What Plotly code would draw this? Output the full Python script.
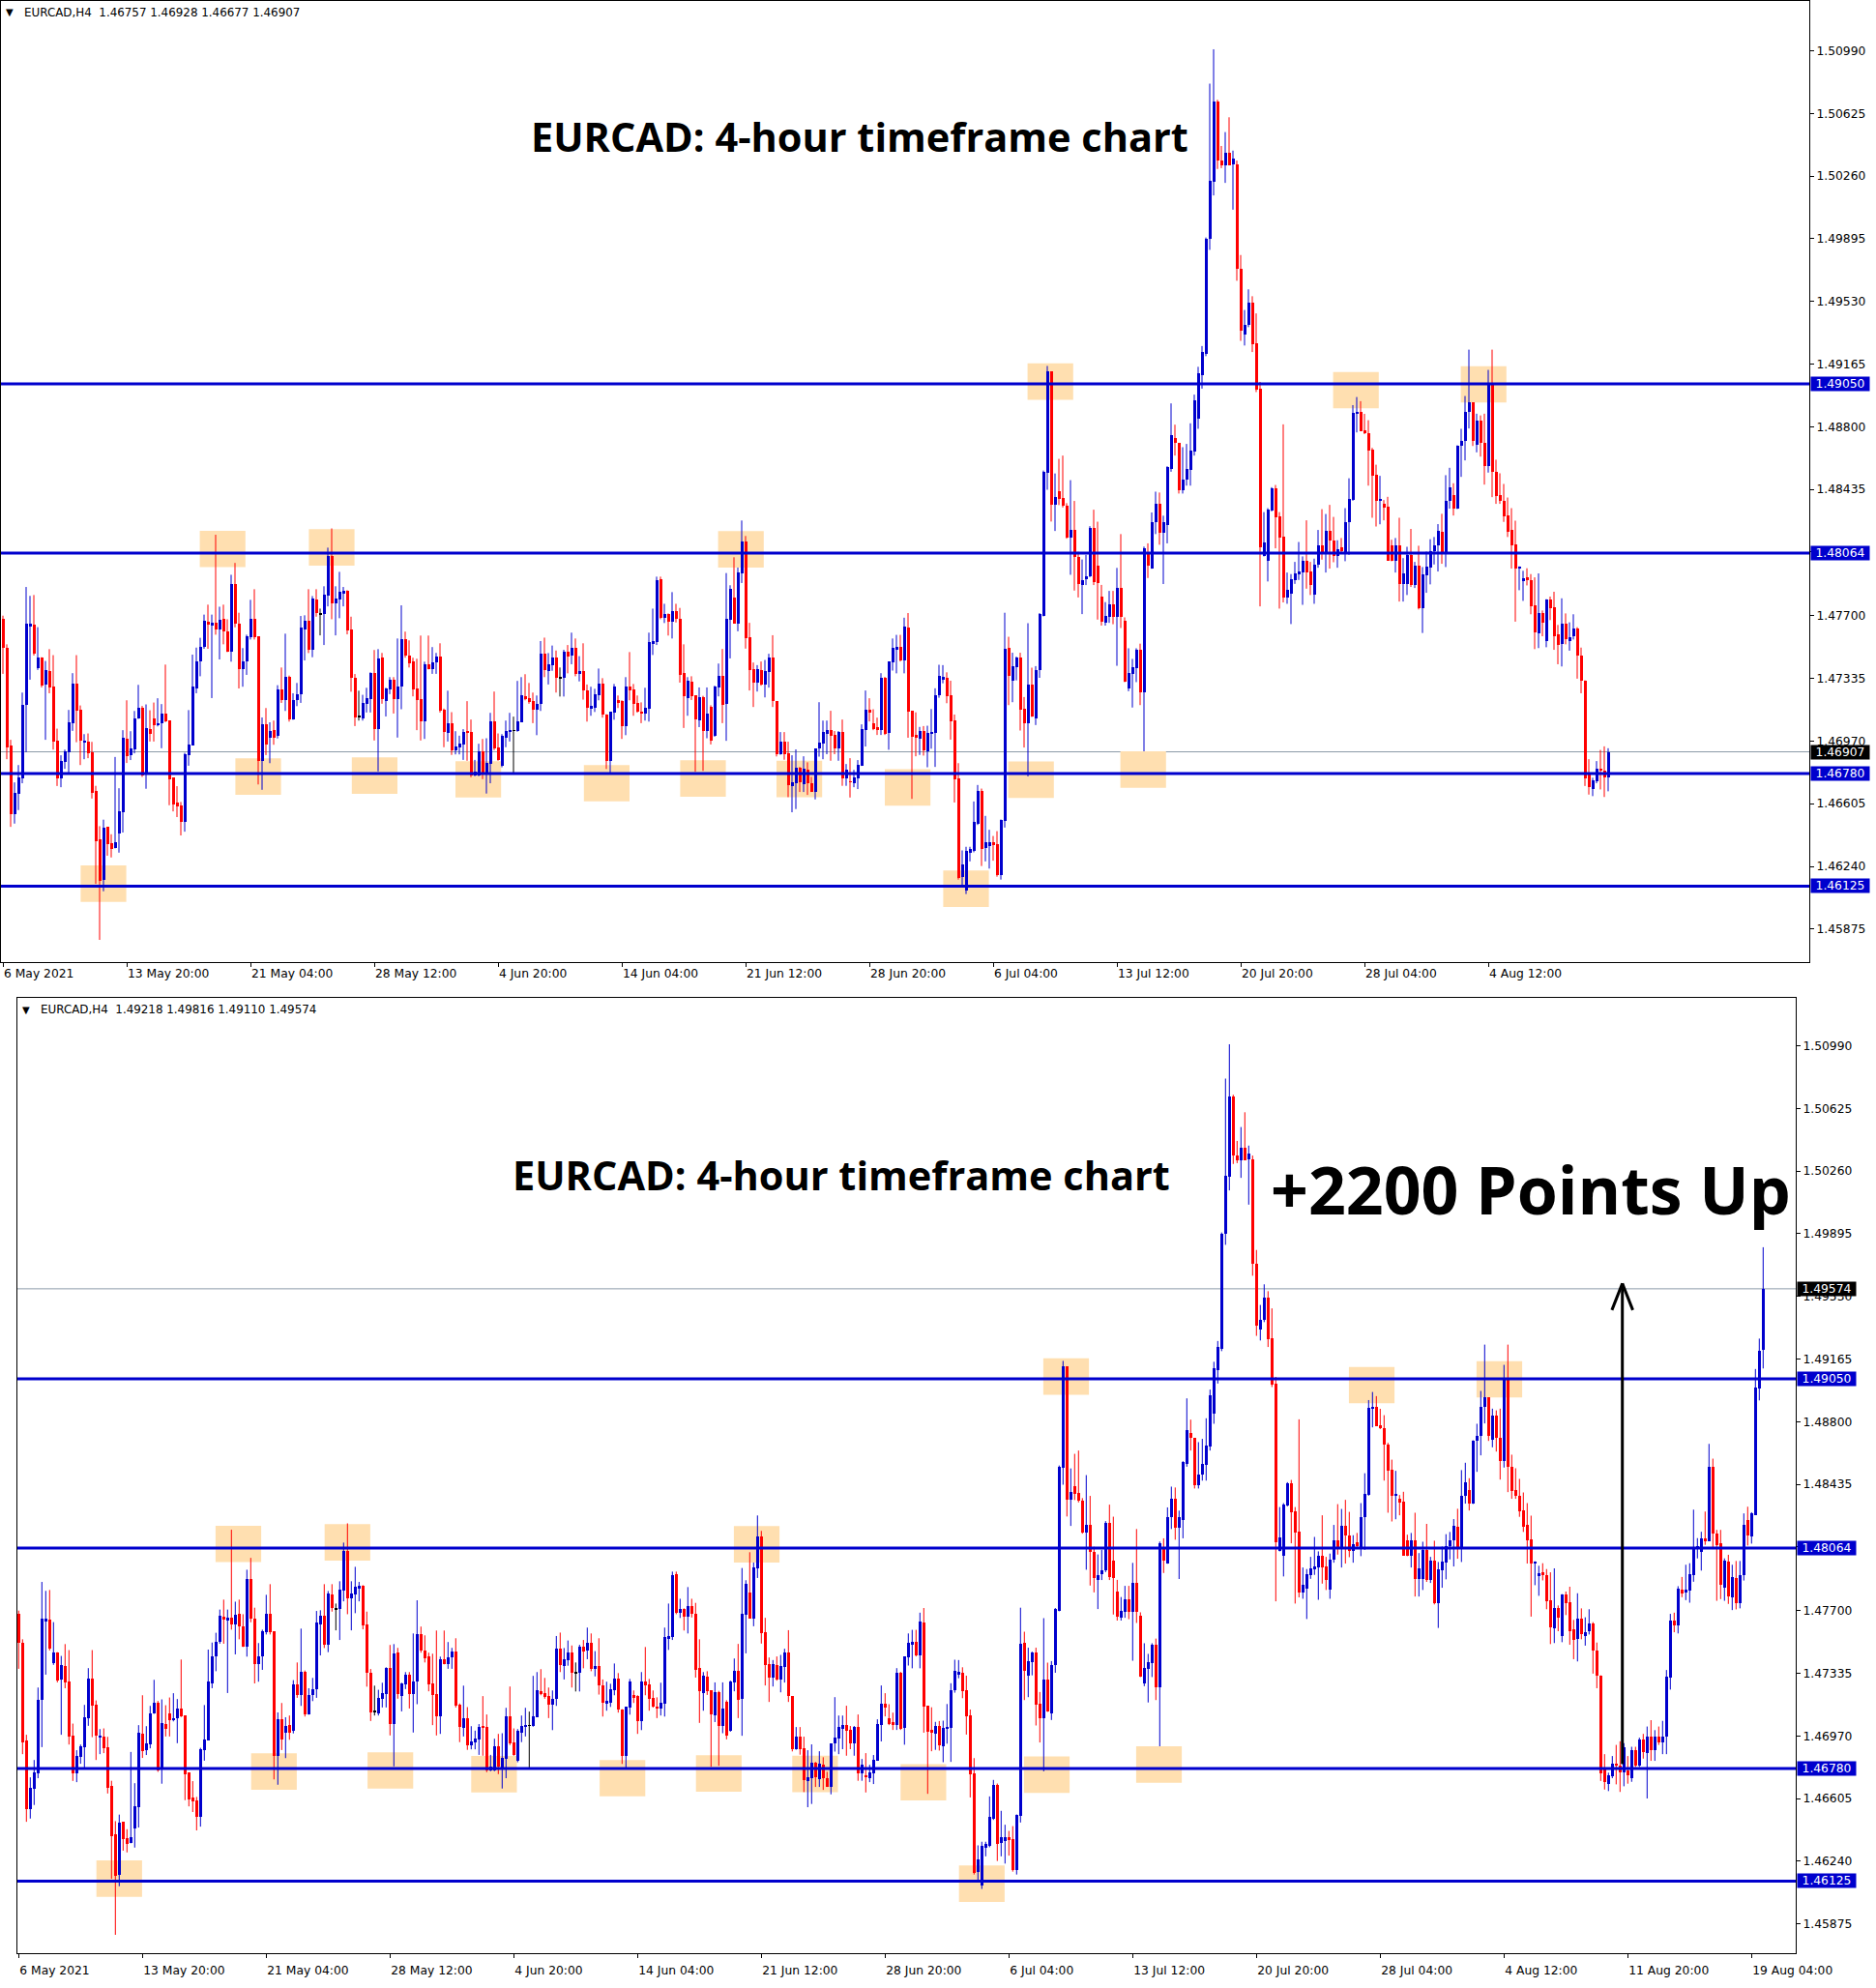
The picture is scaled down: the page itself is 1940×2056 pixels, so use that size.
import plotly.graph_objects as go

# ---------- EURCAD H4 candles, prices as 1.xxxxx -> stored as the 5 digits after "1." ----------
OPEN = [
    47683, 47511, 46943, 46542, 46664, 46755, 47183, 47639, 47646, 47395,
    47455, 47299, 47380, 47286, 46971, 46755, 46849, 46905, 47074, 47303,
    47151, 46962, 46965, 46902, 46677, 46395, 46161, 46469, 46375, 46349,
    46433, 46555, 46982, 46887, 46924, 47102, 47166, 46776, 47039, 47100,
    47061, 47076, 47128, 47089, 46757, 46611, 46592, 46498, 46888, 46944,
    47276, 47436, 47518, 47666, 47642, 47657, 47619, 47679, 47610, 47488,
    47886, 47651, 47387, 47432, 47572, 47679, 47580, 46854, 47070, 46991,
    47032, 46999, 47269, 47207, 47342, 47094, 47207, 47242, 47619, 47668,
    47501, 47792, 47711, 47707, 47814, 48045, 47769, 47792, 47833, 47842,
    47617, 47336, 47113, 47102, 47187, 47215, 47365, 47040, 47455, 47205,
    47271, 47325, 47215, 47286, 47562, 47468, 47432, 47277, 47213, 47084,
    47415, 47387, 47427, 47460, 47151, 47018, 47072, 46917, 46933, 46949,
    47027, 47022, 46770, 46770, 46909, 46780, 46836, 47084, 46932, 46827,
    46990, 47023, 47031, 47031, 47080, 47230, 47219, 47202, 47152, 47186,
    47481, 47377, 47411, 47458, 47340, 47336, 47488, 47469, 47511, 47359,
    47376, 47267, 47162, 47162, 47235, 47304, 47126, 46852, 47136, 47207,
    47201, 47055, 47285, 47269, 47190, 47141, 47128, 47156, 47539, 47544,
    47910, 47685, 47707, 47662, 47724, 47679, 47364, 47218, 47314, 47235,
    47089, 47224, 47027, 47168, 47001, 47283, 47348, 47187, 47676, 47804,
    47654, 47946, 48130, 47573, 47388, 47309, 47382, 47299, 47374, 47455,
    47202, 46894, 46966, 46898, 46707, 46726, 46814, 46718, 46803, 46724,
    46673, 46926, 46957, 47011, 47033, 47005, 46926, 47022, 46752, 46735,
    46724, 46752, 46825, 47033, 47155, 47076, 47050, 47033, 47337, 47016,
    47429, 47503, 47520, 47440, 47630, 47146, 47004, 46983, 47029, 46908,
    47016, 47016, 47237, 47325, 47338, 47237, 47088, 46752, 46180, 46100,
    46320, 46331, 46487, 46682, 46348, 46358, 46379, 46369, 46191, 46502,
    47514, 47321, 47400, 47455, 47158, 47074, 47296, 47099, 47381, 47696,
    48534, 49123, 48344, 48422, 48385, 48341, 48153, 48202, 48040, 47876,
    47914, 47932, 48210, 47990, 47811, 47658, 47693, 47766, 47690, 47860,
    47669, 47278, 47359, 47394, 47502, 47252, 48072, 47973, 48242, 48350,
    48183, 48229, 48557, 48734, 48705, 48430, 48490, 48551, 48654, 48847,
    49103, 49224, 49897, 50228, 50696, 50349, 50322, 50395, 50327, 50327,
    49720, 49339, 49395, 49520, 49286, 49023, 48049, 48022, 48311, 48439,
    48277, 48161, 47805, 47827, 47904, 47940, 47951, 48022, 47957, 47824,
    47998, 48110, 48060, 48195, 48139, 48045, 48096, 48064, 48245, 48373,
    48879, 48889, 48782, 48765, 48667, 48523, 48367, 48354, 48332, 48110,
    48022, 48107, 47885, 47886, 48054, 47876, 47989, 47741, 47933, 47979,
    48073, 48107, 48191, 48060, 48368, 48400, 48326, 48688, 48716, 48889,
    48940, 48696, 48833, 48707, 48570, 49045, 48538, 48400, 48371, 48283,
    48197, 48113, 47974, 47901, 47923, 47908, 47758, 47599, 47713, 47552,
    47796, 47749, 47589, 47533, 47651, 47552, 47580, 47627, 47468, 47323,
    46778, 46688, 46735, 46810, 46799, 46757, 46767, 46724, 46890, 46799,
    46950, 46868, 46967, 46890, 46965, 46933, 46965, 47309, 47642, 47612,
    47821, 47806, 47817, 47907, 48058, 48043, 48122, 48105, 48535, 48148,
    48090, 47832, 47987, 47778, 47890, 47746, 47907, 48225, 48132, 48256,
    48993, 49218,
]
HIGH = [
    47700, 47533, 46977, 46729, 46830, 47252, 47867, 47815, 47820, 47633,
    47458, 47436, 47505, 47470, 47042, 46887, 46920, 47151, 47365, 47470,
    47177, 47010, 47014, 46965, 46709, 46474, 46512, 46469, 46427, 46877,
    46695, 47033, 47207, 47027, 47145, 47297, 47174, 47183, 47149, 47194,
    47219, 47185, 47415, 47089, 46757, 46707, 46615, 46901, 47150, 47473,
    47514, 47571, 47706, 47764, 47706, 48171, 47752, 47764, 47679, 47938,
    48007, 47717, 47511, 47589, 47792, 47854, 47580, 47107, 47162, 47079,
    47089, 47295, 47398, 47595, 47351, 47248, 47308, 47698, 47702, 47854,
    47814, 47854, 47741, 47871, 48096, 48208, 47871, 47955, 47867, 47848,
    47694, 47360, 47263, 47239, 47280, 47370, 47500, 47505, 47483, 47280,
    47342, 47342, 47567, 47760, 47607, 47556, 47455, 47449, 47584, 47432,
    47584, 47517, 47483, 47539, 47159, 47263, 47138, 47027, 47001, 47039,
    47202, 47095, 46860, 46954, 46982, 46986, 47134, 47258, 47014, 47010,
    47089, 47134, 47112, 47320, 47342, 47359, 47308, 47252, 47235, 47552,
    47572, 47482, 47526, 47497, 47398, 47501, 47529, 47601, 47567, 47464,
    47539, 47299, 47286, 47274, 47392, 47336, 47126, 47139, 47302, 47235,
    47207, 47342, 47488, 47302, 47235, 47195, 47280, 47601, 47741, 47927,
    47927, 47769, 47713, 47837, 47769, 47745, 47533, 47342, 47347, 47235,
    47282, 47233, 47282, 47178, 47292, 47421, 47506, 47948, 47877, 48040,
    47980, 48254, 48164, 47658, 47427, 47412, 47433, 47442, 47478, 47586,
    47202, 47022, 47022, 46966, 46887, 46921, 46819, 46881, 46846, 46761,
    46926, 47196, 47089, 47089, 47146, 47028, 47028, 47095, 46836, 46870,
    46802, 46859, 47067, 47264, 47219, 47155, 47106, 47365, 47343, 47433,
    47567, 47588, 47588, 47688, 47715, 47146, 47137, 47052, 47057, 47059,
    47156, 47277, 47414, 47412, 47370, 47321, 47124, 46841, 46333, 46354,
    46354, 46618, 46714, 46693, 46534, 46453, 46417, 46445, 46513, 47717,
    47577, 47484, 47461, 47484, 47226, 47656, 47397, 47406, 47715, 48545,
    49154, 49123, 48528, 48613, 48632, 48355, 48489, 48368, 48072, 48027,
    48054, 48221, 48317, 48247, 47879, 47779, 47844, 47844, 47978, 48175,
    47690, 47510, 47448, 47510, 47537, 48102, 48121, 48301, 48422, 48417,
    48282, 48570, 48936, 48812, 48705, 48681, 48700, 48820, 48987, 49149,
    49270, 49902, 50798, 50998, 50704, 50435, 50516, 50602, 50408, 50350,
    49800, 49480, 49600, 49560, 49460, 49061, 48303, 48326, 48448, 48461,
    48303, 48814, 47951, 47942, 48013, 48129, 48045, 48255, 48013, 48032,
    48199, 48320, 48292, 48345, 48275, 48139, 48152, 48326, 48500, 48926,
    48973, 48949, 48875, 48838, 48677, 48579, 48514, 48373, 48392, 48142,
    48152, 48270, 48035, 48101, 48205, 48013, 48107, 47983, 48073, 48145,
    48158, 48233, 48293, 48518, 48561, 48471, 48692, 48788, 48979, 49249,
    48940, 48876, 48866, 48876, 49131, 49249, 48608, 48529, 48467, 48388,
    48326, 48253, 47987, 47961, 47976, 47942, 47923, 47946, 47730, 47796,
    47811, 47839, 47646, 47801, 47713, 47661, 47708, 47633, 47514, 47323,
    46864, 46756, 46853, 46918, 46939, 46928, 46853, 46907, 46907, 46960,
    46982, 47025, 47062, 47004, 47025, 47058, 47354, 47681, 47688, 47842,
    47896, 47967, 47976, 48288, 48122, 48159, 48277, 48671, 48585, 48170,
    48170, 48004, 48025, 47967, 47989, 47989, 48266, 48305, 48273, 49107,
    49284, 49816,
]
LOW = [
    47361, 46864, 46470, 46489, 46568, 46724, 46905, 47327, 47468, 47384,
    47282, 46977, 47248, 46920, 46708, 46701, 46808, 46780, 47029, 46963,
    46830, 46864, 46870, 46635, 46138, 45812, 46095, 46302, 46292, 46345,
    46320, 46437, 46842, 46859, 46898, 47099, 46761, 46692, 46967, 46967,
    47055, 46928, 47080, 46596, 46560, 46527, 46420, 46442, 46826, 46944,
    47248, 47347, 47507, 47507, 47220, 47589, 47445, 47533, 47488, 47432,
    47632, 47276, 47286, 47355, 47561, 47561, 46717, 46686, 46888, 46841,
    46948, 46985, 47192, 47145, 47083, 47094, 47173, 47192, 47439, 47482,
    47458, 47694, 47585, 47529, 47754, 47679, 47585, 47685, 47754, 47591,
    47257, 47057, 47089, 47089, 47136, 47136, 46973, 46793, 47187, 47113,
    47243, 47130, 46990, 47155, 47455, 47398, 47230, 47033, 46973, 46982,
    47387, 47361, 47361, 47136, 46934, 46967, 46889, 46892, 46892, 46860,
    46855, 46759, 46765, 46765, 46748, 46664, 46724, 46917, 46855, 46817,
    46934, 46967, 46784, 47024, 47080, 47207, 47187, 47074, 47004, 47145,
    47342, 47299, 47379, 47252, 47229, 47229, 47364, 47417, 47347, 47317,
    47211, 47083, 47117, 47139, 47207, 47106, 46807, 46783, 47094, 47162,
    46982, 47004, 47207, 47117, 47135, 47074, 47089, 47083, 47471, 47529,
    47679, 47657, 47584, 47567, 47660, 47310, 47046, 47117, 47209, 46791,
    47051, 46796, 46986, 46950, 46995, 47230, 47074, 46971, 47451, 47654,
    47609, 47890, 47508, 47264, 47168, 47258, 47292, 47224, 47281, 47168,
    46880, 46890, 46861, 46643, 46555, 46574, 46673, 46673, 46656, 46673,
    46630, 46879, 46864, 46893, 46855, 46893, 46855, 46709, 46709, 46641,
    46701, 46690, 46825, 46938, 47084, 47033, 47005, 47005, 47005, 46919,
    47380, 47364, 47433, 47364, 46989, 46633, 46881, 46889, 46885, 46817,
    46925, 46819, 47222, 47306, 47190, 46978, 46612, 46163, 46132, 46079,
    46269, 46322, 46481, 46242, 46269, 46227, 46273, 46180, 46163, 46466,
    47179, 47196, 47323, 47031, 46932, 46764, 47110, 47063, 47338, 47696,
    48433, 48248, 48193, 48344, 48330, 48148, 47938, 47846, 47806, 47709,
    47878, 47924, 47878, 47677, 47642, 47642, 47658, 47650, 47408, 47628,
    47313, 47260, 47165, 47313, 47179, 46910, 47919, 47973, 48175, 48113,
    47884, 48121, 48538, 48632, 48411, 48411, 48457, 48457, 48632, 48788,
    49022, 49211, 49830, 50147, 50301, 50306, 50220, 50322, 50064, 49650,
    49300, 49273, 49380, 49235, 49002, 47754, 48045, 47899, 48307, 48092,
    47741, 47777, 47769, 47651, 47885, 47908, 47763, 47857, 47820, 47769,
    47979, 48026, 47951, 47974, 48011, 47979, 48064, 48017, 48054, 48369,
    48767, 48776, 48757, 48457, 48270, 48219, 48232, 48255, 48022, 48017,
    47951, 47782, 47782, 47820, 47867, 47861, 47736, 47599, 47833, 47882,
    47998, 47957, 48002, 47983, 48323, 48283, 48321, 48508, 48604, 48790,
    48688, 48651, 48626, 48463, 48533, 48390, 48351, 48351, 48246, 48158,
    47974, 47665, 47848, 47786, 47876, 47708, 47505, 47511, 47580, 47516,
    47674, 47501, 47417, 47404, 47533, 47496, 47561, 47333, 47248, 46708,
    46658, 46649, 46724, 46688, 46644, 46677, 46692, 46703, 46789, 46789,
    46838, 46606, 46825, 46825, 46918, 46864, 46864, 47240, 47574, 47567,
    47778, 47761, 47746, 47868, 48004, 47933, 48083, 48105, 48058, 47757,
    47767, 47757, 47739, 47703, 47707, 47713, 47875, 48079, 48090, 48256,
    48924, 49110,
]
CLOSE = [
    47515, 46930, 46545, 46667, 46757, 47183, 47652, 47652, 47477, 47455,
    47292, 47385, 47282, 46967, 46752, 46853, 46909, 47078, 47303, 47145,
    46971, 46971, 46898, 46667, 46386, 46157, 46465, 46371, 46343, 46380,
    46560, 46988, 46883, 46926, 47104, 47166, 46770, 47044, 47009, 47063,
    47076, 47128, 47085, 46748, 46602, 46589, 46499, 46892, 46952, 47286,
    47436, 47520, 47668, 47647, 47657, 47619, 47674, 47610, 47488, 47882,
    47651, 47387, 47432, 47580, 47679, 47572, 46854, 47070, 46948, 47031,
    46991, 47269, 47207, 47342, 47094, 47210, 47244, 47629, 47668, 47501,
    47797, 47713, 47711, 47820, 48045, 47769, 47797, 47837, 47844, 47614,
    47336, 47107, 47113, 47190, 47219, 47365, 47040, 47449, 47215, 47275,
    47325, 47215, 47286, 47562, 47468, 47423, 47271, 47209, 47084, 47415,
    47387, 47427, 47460, 47145, 47024, 47072, 46917, 46939, 46954, 47024,
    47018, 46770, 46793, 46909, 46789, 46842, 47084, 46926, 46860, 46999,
    47029, 47033, 47031, 47084, 47235, 47219, 47198, 47153, 47188, 47477,
    47383, 47415, 47458, 47336, 47340, 47488, 47460, 47511, 47359, 47376,
    47267, 47162, 47173, 47241, 47304, 47122, 46852, 47139, 47285, 47197,
    47055, 47285, 47263, 47184, 47139, 47128, 47162, 47544, 47550, 47904,
    47685, 47707, 47662, 47724, 47679, 47355, 47229, 47319, 47229, 47094,
    47224, 47027, 47128, 46973, 47286, 47348, 47183, 47680, 47858, 47654,
    47950, 48130, 47568, 47384, 47309, 47388, 47301, 47380, 47455, 47202,
    46893, 46966, 46894, 46714, 46729, 46814, 46729, 46808, 46724, 46673,
    46926, 46960, 47022, 47033, 47001, 46926, 47022, 46752, 46802, 46731,
    46757, 46831, 47039, 47155, 47134, 47039, 47033, 47337, 47013, 47433,
    47512, 47520, 47440, 47635, 47141, 46997, 46989, 47029, 46913, 47016,
    47023, 47237, 47347, 47342, 47232, 47084, 46747, 46174, 46254, 46328,
    46339, 46498, 46682, 46341, 46381, 46379, 46369, 46191, 46513, 47508,
    47349, 47406, 47455, 47152, 47074, 47296, 47110, 47381, 47709, 48538,
    49123, 48344, 48392, 48380, 48341, 48153, 48202, 48040, 47887, 47906,
    47932, 48210, 47897, 47892, 47663, 47698, 47766, 47690, 47860, 47690,
    47313, 47367, 47402, 47502, 47252, 48094, 47992, 48247, 48350, 48183,
    48242, 48565, 48753, 48705, 48430, 48490, 48557, 48659, 48955, 49111,
    49238, 49897, 50233, 50696, 50349, 50322, 50395, 50322, 50360, 49720,
    49357, 49395, 49520, 49282, 49014, 48097, 48129, 48320, 48439, 48274,
    48157, 47805, 47848, 47910, 47945, 47957, 48022, 47951, 47876, 47998,
    48110, 48060, 48195, 48139, 48045, 48088, 48077, 48245, 48377, 48883,
    48889, 48776, 48761, 48664, 48514, 48367, 48382, 48330, 48022, 48017,
    48110, 47885, 47945, 48055, 47876, 47989, 47741, 47938, 47983, 48077,
    48111, 48195, 48060, 48371, 48448, 48326, 48692, 48720, 48889, 48940,
    48720, 48833, 48707, 48570, 49045, 48538, 48396, 48368, 48276, 48191,
    48107, 47974, 47987, 47918, 47904, 47754, 47601, 47713, 47661, 47796,
    47745, 47580, 47530, 47651, 47561, 47576, 47627, 47468, 47323, 46750,
    46703, 46741, 46810, 46799, 46756, 46907, 46739, 46885, 46799, 46950,
    46875, 46967, 46890, 46965, 46933, 46969, 47316, 47642, 47612, 47827,
    47799, 47821, 47911, 48062, 48075, 48122, 48101, 48535, 48148, 48083,
    47853, 47989, 47782, 47896, 47746, 47907, 48197, 48137, 48266, 48998,
    49213, 49574,
]

TIME_LABELS = ["6 May 2021", "13 May 20:00", "21 May 04:00", "28 May 12:00", "4 Jun 20:00",
               "14 Jun 04:00", "21 Jun 12:00", "28 Jun 20:00", "6 Jul 04:00", "13 Jul 12:00",
               "20 Jul 20:00", "28 Jul 04:00", "4 Aug 12:00", "11 Aug 20:00", "19 Aug 04:00"]
LABEL_EVERY = 32  # bars between time labels

PRICE_TICKS = [1.50990, 1.50625, 1.50260, 1.49895, 1.49530, 1.49165, 1.48800, 1.48435,
               1.48070, 1.47700, 1.47335, 1.46970, 1.46605, 1.46240, 1.45875]
LEVELS = [1.49050, 1.48064, 1.46780, 1.46125]

# support / resistance zones: (first bar, top price)
ZONES = [(50.9, 1.48194), (79.1, 1.48203), (184.9, 1.48192), (264.9, 1.49169),
         (343.9, 1.49119), (376.9, 1.49153), (20.1, 1.46245), (60.1, 1.46869),
         (90.2, 1.46875), (117.0, 1.46853), (150.2, 1.46830), (175.1, 1.46858),
         (200.0, 1.46855), (228.0, 1.46806), (243.1, 1.46216), (259.9, 1.46851),
         (288.9, 1.46910)]
ZONE_W, ZONE_H = 11.8, 0.00212

HEAD_TOP = "EURCAD,H4  1.46757 1.46928 1.46677 1.46907"
HEAD_BOT = "EURCAD,H4  1.49218 1.49816 1.49110 1.49574"
LAST_TOP, LAST_BOT = 1.46907, 1.49574
ARROW_BAR, ARROW_FROM, ARROW_TO = 414.6, 1.46806, 1.49605

FW, FH = 1940, 2056
BLUE, RED = "#0000CD", "#FF0000"
ZONE_COL = "#FFDFB0"
FONT = "DejaVu Sans"
TICK_SIZE = 12.3


def px(v):
    return 1 + v / 1e5


# panel: bars shown, axes, plot box in pixels (x0, x1, y0, y1), axis ranges
PANELS = [
    dict(n=416, xa="x", ya="y", box=(1, 1871, 1, 995), xr=[-0.5, 467.0],
         yr=[1.456826, 1.512794], last=LAST_TOP, head=HEAD_TOP, nlab=13, standoff=0),
    dict(n=452, xa="x2", ya="y2", box=(18, 1857, 1032, 2020), xr=[-0.325, 459.425],
         yr=[1.457050, 1.512682], last=LAST_BOT, head=HEAD_BOT, nlab=15, standoff=6),
]

fig = go.Figure()
shapes, annots = [], []
MIN_BODY = 0.00005

for p in PANELS:
    for kind, color in (("up", BLUE), ("down", RED), ("flat", "black")):
        bx, bbase, bh, wx, wy = [], [], [], [], []
        for i in range(p["n"]):
            o, h, l, c = OPEN[i], HIGH[i], LOW[i], CLOSE[i]
            k = "up" if c > o else ("down" if c < o else "flat")
            if k != kind:
                continue
            lo, hi = px(min(o, c)), px(max(o, c))
            size = max(hi - lo, MIN_BODY)
            bx.append(i)
            bbase.append((lo + hi) / 2 - size / 2)
            bh.append(size)
            wx += [i, i, None]
            wy += [px(l), px(h), None]
        fig.add_trace(go.Scatter(x=wx, y=wy, mode="lines", line=dict(color=color, width=1),
                                 xaxis=p["xa"], yaxis=p["ya"], hoverinfo="skip", showlegend=False))
        fig.add_trace(go.Bar(x=bx, base=bbase, y=bh, width=0.75,
                             marker=dict(color=color, line=dict(width=0)),
                             xaxis=p["xa"], yaxis=p["ya"], hoverinfo="skip", showlegend=False))

    xa, ya = p["xa"], p["ya"]
    # zones
    for x0, top in ZONES:
        shapes.append(dict(type="rect", xref=xa, yref=ya, x0=x0, x1=x0 + ZONE_W,
                           y0=top - ZONE_H, y1=top, fillcolor=ZONE_COL, line=dict(width=0),
                           layer="below"))
    # last price line
    shapes.append(dict(type="line", xref=xa + " domain", yref=ya, x0=0, x1=1,
                       y0=p["last"], y1=p["last"], line=dict(color="#8C9AA8", width=1),
                       layer="below"))
    # horizontal levels
    for lv in LEVELS:
        shapes.append(dict(type="line", xref=xa + " domain", yref=ya, x0=0, x1=1,
                           y0=lv, y1=lv, line=dict(color=BLUE, width=3)))
    # right axis price boxes
    x_lab = (p["box"][1] + 1) / FW
    for lv in LEVELS:
        annots.append(dict(xref="paper", yref=ya, x=x_lab, y=lv, xanchor="left",
                           yanchor="middle", text=f"{lv:.5f}", showarrow=False,
                           bgcolor=BLUE, width=60, height=14, borderpad=0,
                           font=dict(family=FONT, size=TICK_SIZE, color="white")))
    annots.append(dict(xref="paper", yref=ya, x=x_lab, y=p["last"], xanchor="left",
                       yanchor="middle", text=f"{p['last']:.5f}", showarrow=False,
                       bgcolor="black", width=60, height=14, borderpad=0,
                       font=dict(family=FONT, size=TICK_SIZE, color="white")))
    # header
    annots.append(dict(xref="paper", yref="paper", x=(p["box"][0] + 9) / FW,
                       y=1 - (p["box"][2] + 12) / FH, xanchor="center", yanchor="middle",
                       text="▼", showarrow=False, font=dict(family=FONT, size=10, color="black")))
    annots.append(dict(xref="paper", yref="paper", x=(p["box"][0] + 22) / FW,
                       y=1 - (p["box"][2] + 12) / FH, xanchor="left", yanchor="middle",
                       text=p["head"], showarrow=False,
                       font=dict(family=FONT, size=11.9, color="black")))

# arrow on the lower chart
shapes.append(dict(type="line", xref="x2", yref="y2", x0=ARROW_BAR, x1=ARROW_BAR,
                   y0=ARROW_FROM, y1=ARROW_TO, line=dict(color="black", width=3)))
for side in (-2.7, 2.7):
    shapes.append(dict(type="line", xref="x2", yref="y2", x0=ARROW_BAR, x1=ARROW_BAR + side,
                       y0=ARROW_TO, y1=ARROW_TO - 0.00155, line=dict(color="black", width=3)))

# titles
TITLE_FONT = dict(family="Open Sans", size=41.5, color="black")
annots.append(dict(xref="paper", yref="paper", x=889 / FW, y=1 - 141 / FH, xanchor="center",
                   yanchor="middle", text="<b>EURCAD: 4-hour timeframe chart</b>",
                   showarrow=False, font=TITLE_FONT))
annots.append(dict(xref="paper", yref="paper", x=870 / FW, y=1 - 1215 / FH, xanchor="center",
                   yanchor="middle", text="<b>EURCAD: 4-hour timeframe chart</b>",
                   showarrow=False, font=TITLE_FONT))
annots.append(dict(xref="paper", yref="paper", x=1583 / FW, y=1 - 1229 / FH, xanchor="center",
                   yanchor="middle", text="<b>+2200 Points Up</b>", showarrow=False,
                   font=dict(family="Open Sans", size=68, color="black")))

axis_common = dict(showgrid=False, zeroline=False, showline=True, linecolor="black",
                   linewidth=1, mirror=True, ticks="outside", ticklen=4, tickcolor="black",
                   automargin=False,
                   tickfont=dict(family=FONT, size=TICK_SIZE, color="black"))

layout = dict(width=FW, height=FH, margin=dict(l=0, r=0, t=0, b=0, autoexpand=False),
              paper_bgcolor="white", plot_bgcolor="white", barmode="overlay",
              showlegend=False, shapes=shapes, annotations=annots, bargap=0)

for k, p in enumerate(PANELS):
    suf = "" if k == 0 else "2"
    x0, x1, y0, y1 = p["box"]
    layout["xaxis" + suf] = dict(axis_common, domain=[x0 / FW, x1 / FW], range=p["xr"],
                                 anchor="y" + suf, tickvals=[j * LABEL_EVERY for j in range(p["nlab"])],
                                 ticktext=TIME_LABELS[:p["nlab"]], ticklabelposition="outside right",
                                 ticklabelstandoff=p["standoff"])
    layout["yaxis" + suf] = dict(axis_common, domain=[1 - y1 / FH, 1 - y0 / FH], range=p["yr"],
                                 anchor="x" + suf, side="right", tickvals=PRICE_TICKS,
                                 ticktext=[f"{t:.5f}" for t in PRICE_TICKS])

fig.update_layout(**layout)

# page without body margin / scrollbar so the figure keeps its full 1940x2056 size
FIT_PAGE = ("document.body.style.margin='0';document.body.style.overflow='hidden';"
            "var gd=document.getElementById('{plot_id}');"
            "Plotly.relayout(gd,{width:%d,height:%d});" % (FW, FH))
fig.write_html("out.html", config={"responsive": False, "displayModeBar": False},
               post_script=FIT_PAGE)
